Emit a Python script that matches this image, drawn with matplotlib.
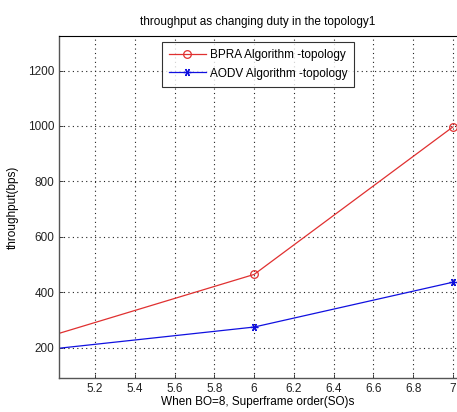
import matplotlib
matplotlib.use("Agg")
import matplotlib.pyplot as plt

x_so = [5, 6, 7]
bpra = [247, 464, 997]
aodv = [196, 274, 436]
xticks = [5.2, 5.4, 5.6, 5.8, 6, 6.2, 6.4, 6.6, 6.8, 7]
xticklabels = ["5.2", "5.4", "5.6", "5.8", "6", "6.2", "6.4", "6.6", "6.8", "7"]
yticks = [200, 400, 600, 800, 1000, 1200]

plt.rcParams['font.family'] = ['Liberation Sans', 'DejaVu Sans']

fig = plt.figure(figsize=(4.57, 4.12), dpi=100)
ax = fig.add_axes([59/457, 1-378/412, 398/457, (378-36)/412])

ax.plot(x_so, bpra, color='#e03030', lw=0.9, marker='o', ms=5.5, mfc='none', mec='#e03030', mew=0.9,
        label='BPRA Algorithm -topology')
ax.plot(x_so, aodv, color='#1010e0', lw=0.9, marker=(6, 2, 90), ms=5.5, mfc='#1010e0', mec='#1010e0', mew=0.9,
        label='AODV Algorithm -topology')

ax.set_xlim(5.019, 7.02)
ax.set_ylim(90, 1325)
ax.set_xticks(xticks)
ax.set_xticklabels(xticklabels)
ax.set_yticks(yticks)
ax.tick_params(direction='in', labelsize=8.5, length=3, width=0.6, colors='#222222')
ax.grid(True, linestyle=(0, (1, 3)), color='#222222', lw=0.8)
for s in ['left', 'bottom']:
    ax.spines[s].set_color('#555555')
    ax.spines[s].set_linewidth(1.0)
ax.spines['top'].set_color('black')
ax.spines['right'].set_visible(False)

ax.set_title('throughput as changing duty in the topology1', fontsize=8.5, pad=8)
ax.set_xlabel('When BO=8, Superframe order(SO)s', fontsize=8.5, labelpad=1)
ax.set_ylabel('throughput(bps)', fontsize=8.5, labelpad=6)

leg = ax.legend(loc='upper center', bbox_to_anchor=(0.5, 1 - 6/342), fontsize=8.5, frameon=True,
                fancybox=False, edgecolor='black', borderaxespad=0, handlelength=3.2,
                handletextpad=0.3, labelspacing=0.55, borderpad=0.6, numpoints=1)
leg.get_frame().set_linewidth(0.8)

fig.savefig('out.png', dpi=100)
